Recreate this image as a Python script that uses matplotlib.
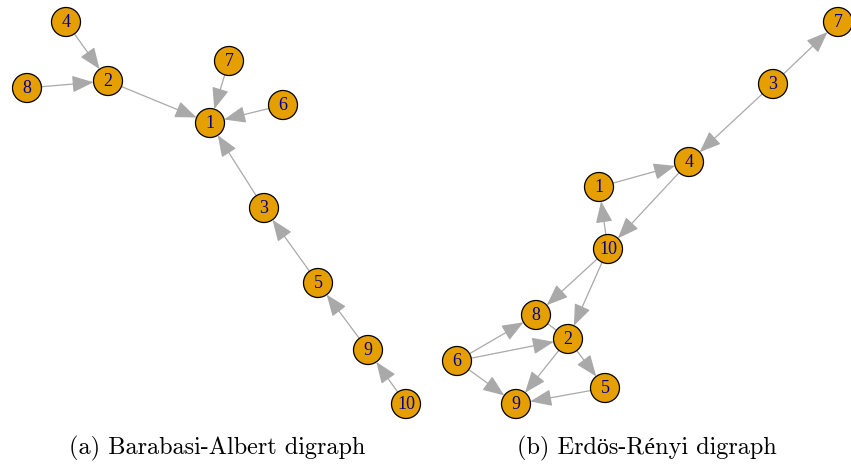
import matplotlib
matplotlib.use("Agg")
import matplotlib.pyplot as plt
from matplotlib.patches import FancyArrowPatch, Circle

# Barabasi-Albert digraph layout (pixel positions)
ba_nodes = ["1", "2", "3", "4", "5", "6", "7", "8", "9", "10"]
ba_x = [210, 108, 264, 66, 318, 283, 229, 27, 368, 406]
ba_y = [123, 81, 208, 22, 283, 105, 61, 88, 350, 404]
ba_edges = [("4", "2"), ("8", "2"), ("2", "1"), ("7", "1"), ("6", "1"),
            ("3", "1"), ("5", "3"), ("9", "5"), ("10", "9")]

# Erdos-Renyi digraph layout
er_nodes = ["1", "2", "3", "4", "5", "6", "7", "8", "9", "10"]
er_x = [599, 568, 773, 689, 605, 457, 838, 536, 516, 608]
er_y = [187, 339, 84, 162, 388, 361, 22, 315, 404, 249]
er_edges = [("3", "7"), ("3", "4"), ("1", "4"), ("4", "10"), ("10", "1"),
            ("10", "8"), ("10", "2"), ("6", "8"), ("6", "2"), ("6", "9"),
            ("2", "9"), ("2", "5"), ("5", "9")]
# edge whose arrowhead is hidden under the node (nodes too close)
er_hidden_head_edges = [("8", "2")]

captions = ["(a) Barabasi-Albert digraph", "(b) Erdös-Rényi digraph"]
caption_x = [217, 647]
caption_y = [448, 448]

W, H = 851, 466
fig = plt.figure(figsize=(W / 100, H / 100), dpi=100)
ax = fig.add_axes([0, 0, 1, 1])
ax.set_xlim(0, W)
ax.set_ylim(H, 0)
ax.axis("off")

R = 14.5  # node radius in px
px2pt = 72 / 100.0
node_color = "#E69F00"
edge_color = "#A9A9A9"


def draw_graph(nodes, xs, ys, edges, plain_edges=()):
    pos = {n: (x, y) for n, x, y in zip(nodes, xs, ys)}
    for a, b in edges:
        arr = FancyArrowPatch(pos[a], pos[b],
                              arrowstyle="-|>,head_length=1.4,head_width=0.55",
                              mutation_scale=9.5,
                              shrinkA=R * px2pt, shrinkB=R * px2pt,
                              color=edge_color, lw=0.9, zorder=1)
        ax.add_patch(arr)
    for a, b in plain_edges:
        ax.plot([pos[a][0], pos[b][0]], [pos[a][1], pos[b][1]],
                color=edge_color, lw=0.9, zorder=1)
    for n in nodes:
        x, y = pos[n]
        ax.add_patch(Circle((x, y), R, facecolor=node_color, edgecolor="black",
                            lw=0.9, zorder=2))
        ax.text(x, y + 0.5, n, ha="center", va="center", color="#00008B",
                fontsize=13, family=["Liberation Serif", "DejaVu Serif"], zorder=3)


draw_graph(ba_nodes, ba_x, ba_y, ba_edges)
draw_graph(er_nodes, er_x, er_y, er_edges, er_hidden_head_edges)

for t, x, y in zip(captions, caption_x, caption_y):
    ax.text(x, y, t, ha="center", va="center", fontsize=17.5,
            family=["cmr10", "Liberation Serif"], color="black")

fig.savefig("out.png", dpi=100)
